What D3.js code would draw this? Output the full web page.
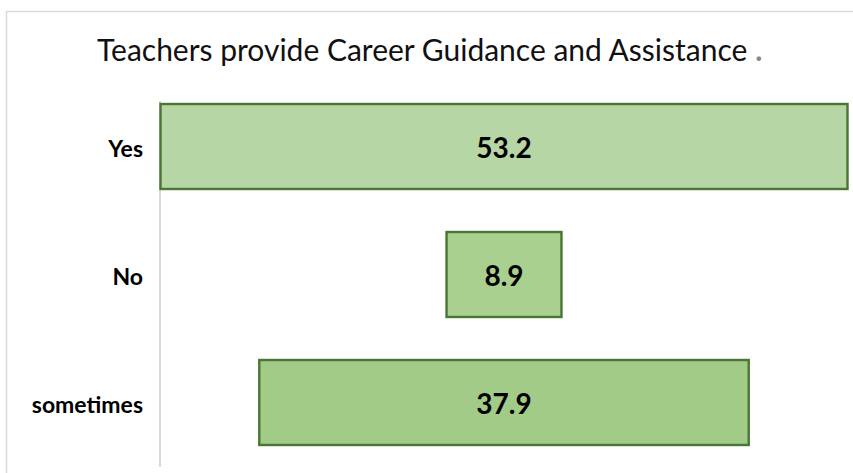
<!DOCTYPE html>
<html>
<head>
<meta charset="utf-8">
<script src="https://cdn.jsdelivr.net/npm/d3@7"></script>
<style>
  body { margin: 0; background: #fff; }
  text { font-family: Lato, "Open Sans", sans-serif; }
</style>
</head>
<body>
<script>
// chart data
const categories = ['Yes', 'No', 'sometimes'];
const values = [53.2, 8.9, 37.9];
const fills = ['#b6d6a6', '#aad08f', '#a1cb87'];
const titleText = 'Teachers provide Career Guidance and Assistance';

const width = 853, height = 473;
const center = 504; // funnel bars are centred here

const svg = d3.select('body')
    .append('svg')
    .attr('width', width)
    .attr('height', height);

// light frame round the chart (only top and left show in the picture)
svg.append('path')
    .attr('d', `M6.5,${height} V11.5 H${width}`)
    .attr('fill', 'none')
    .attr('stroke', '#d9d9d9')
    .attr('stroke-width', 1.5);

// title
const title = svg.append('text')
    .attr('x', 97)
    .attr('y', 61)
    .attr('font-size', 30)
    .attr('fill', '#111')
    .text(titleText);
title.append('tspan')
    .attr('dx', 8)
    .attr('fill', '#888')
    .attr('font-weight', 'bold')
    .text('.');

const yScale = d3.scaleBand()
    .domain(categories)
    .range([82.5, 466.5])
    .paddingInner(0.336)
    .paddingOuter(0.168);

// bar width scale, bars grow both ways from the centre
const wScale = d3.scaleLinear()
    .domain([0, 53.2])
    .range([0, 687]);

// category axis line and labels
svg.append('line')
    .attr('x1', 160).attr('x2', 160)
    .attr('y1', 101).attr('y2', 467)
    .attr('stroke', '#d9d9d9')
    .attr('stroke-width', 2);

svg.selectAll('.cat')
    .data(categories)
    .enter()
    .append('text')
    .attr('class', 'cat')
    .attr('x', 143)
    .attr('y', d => yScale(d) + yScale.bandwidth() / 2)
    .attr('dy', '0.45em')
    .attr('text-anchor', 'end')
    .attr('font-size', 23)
    .attr('font-weight', 'bold')
    .attr('fill', '#000')
    .text(d => d);

svg.selectAll('.bar')
    .data(values)
    .enter()
    .append('rect')
    .attr('class', 'bar')
    .attr('x', d => center - wScale(d) / 2)
    .attr('y', (d, i) => yScale(categories[i]))
    .attr('width', d => wScale(d))
    .attr('height', yScale.bandwidth())
    .attr('fill', (d, i) => fills[i])
    .attr('stroke', '#4a7634')
    .attr('stroke-width', 2.4);

svg.selectAll('.val')
    .data(values)
    .enter()
    .append('text')
    .attr('class', 'val')
    .attr('x', center)
    .attr('y', (d, i) => yScale(categories[i]) + yScale.bandwidth() / 2)
    .attr('dy', '0.42em')
    .attr('text-anchor', 'middle')
    .attr('font-size', 28)
    .attr('font-weight', 'bold')
    .attr('fill', '#000')
    .text(d => d.toFixed(1));
</script>
</body>
</html>
